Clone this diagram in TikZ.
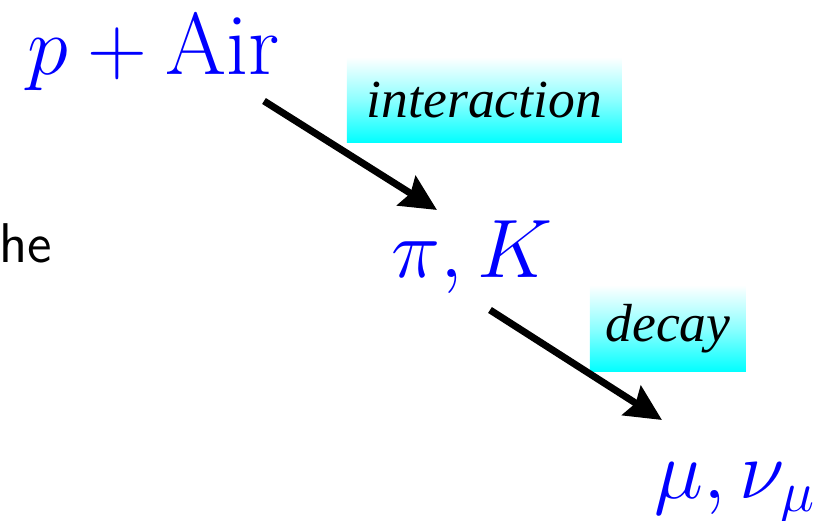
\documentclass[tikz,border=0pt]{standalone}
\usepackage{fontspec}
\newfontfamily\labelfont{Liberation Serif}
\usetikzlibrary{arrows.meta}
\begin{document}
\begin{tikzpicture}[x=0.25pt,y=-0.25pt,
  particle/.style={text=blue,inner sep=0pt,anchor=base west,font=\fontsize{22}{26}\selectfont},
  procbox/.style={top color=white,bottom color=cyan,middle color=cyan!45,inner sep=0pt,text=black,font=\fontsize{13.4}{16}\selectfont\labelfont\itshape},
  flow/.style={line width=1.75pt,-{Stealth[length=9pt,width=8.6pt,inset=1.2pt]}}]
\useasboundingbox (0,0) rectangle (839,521);
\node[particle] (air) at (27,75) {$p+\mathrm{Air}$};
\node[particle] (pik) at (391,278) {$\pi,K$};
\node[particle] (munu) at (654,499) {$\mu,\nu_\mu$};
\node[procbox,minimum width=68.75pt,minimum height=21.5pt] (inter) at (484.5,100) {interaction};
\node[procbox,minimum width=39pt,minimum height=21.75pt] (dec) at (668,328.5) {decay};
\node[inner sep=0pt,anchor=base west,font=\fontsize{14}{17}\selectfont\sffamily] (he) at (-1,263) {he};
\coordinate (a1) at (264,101);
\coordinate (a2) at (437,210);
\coordinate (b1) at (490,310);
\coordinate (b2) at (662,420);
\draw[flow] (a1) -- (a2);
\draw[flow] (b1) -- (b2);
\end{tikzpicture}
\end{document}
